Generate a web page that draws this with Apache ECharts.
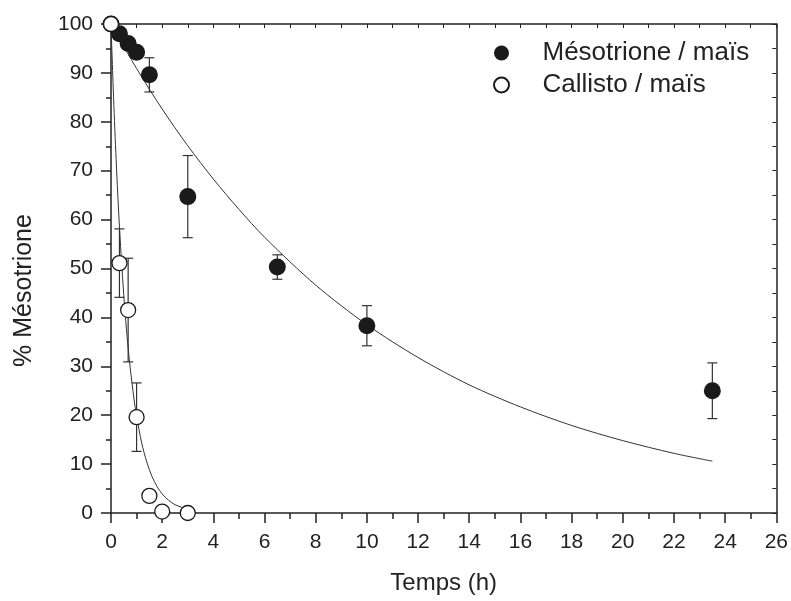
<!DOCTYPE html>
<html>
<head>
<meta charset="utf-8">
<script src="https://cdn.jsdelivr.net/npm/echarts@6/dist/echarts.min.js"></script>
<style>
html,body{margin:0;padding:0;background:#fff;}
#chart{width:791px;height:601px;}
</style>
</head>
<body>
<div id="chart"></div>
<script>
// Mésotrione / maïs (filled circles)
const mesoX = [0, 0.33, 0.67, 1, 1.5, 3, 6.5, 10, 23.5];
const mesoY = [100, 98, 96, 94.2, 89.6, 64.7, 50.3, 38.3, 25.0];
const mesoErr = [0, 0, 0, 0, 3.5, 8.4, 2.5, 4.1, 5.7];

// Callisto / maïs (open circles)
const callX = [0, 0.33, 0.67, 1, 1.5, 2, 3];
const callY = [100, 51.1, 41.5, 19.6, 3.5, 0.3, 0];
const callErr = [0, 7, 10.6, 7, 0, 0, 0];

// Fitted curves
const fitMesoX = [0, 1, 2, 3, 4, 5, 6, 8, 10, 12, 14, 16, 18, 20, 22, 23.5];
const fitMesoY = [100, 90.9, 82.6, 75.1, 68.3, 62.1, 56.4, 46.6, 38.5, 31.8, 26.2, 21.7, 17.9, 14.8, 12.2, 10.6];
const fitCallX = [0, 0.1, 0.2, 0.3, 0.4, 0.5, 0.6, 0.75, 0.9, 1, 1.2, 1.4, 1.6, 1.8, 2, 2.25, 2.5, 2.75, 3];
const fitCallY = [100, 85, 72.3, 61.5, 52.3, 44.5, 37.8, 29.7, 23.3, 19.8, 14.3, 10.4, 7.5, 5.4, 3.9, 2.6, 1.7, 1.2, 0.8];

// Axis ticks
const xMin = 0, xMax = 26, xStep = 2;
const yMin = 0, yMax = 100, yStep = 10;

const nameMeso = 'Mésotrione / maïs';
const nameCall = 'Callisto / maïs';

const zip = (a, b) => a.map((v, i) => [v, b[i]]);
const errData = (xs, ys, es) => xs.map((x, i) => [x, ys[i] - es[i], ys[i] + es[i]]).filter((d, i) => es[i] > 0);

const TXT = '#222';
const FONT = 'Liberation Sans, Arial, sans-serif';

function errRender(params, api) {
  const x = api.value(0);
  const lo = api.coord([x, api.value(1)]);
  const hi = api.coord([x, api.value(2)]);
  const hw = 5;
  const st = { stroke: '#333', lineWidth: 1.2 };
  return {
    type: 'group',
    children: [
      { type: 'line', shape: { x1: lo[0], y1: lo[1], x2: hi[0], y2: hi[1] }, style: st },
      { type: 'line', shape: { x1: lo[0] - hw, y1: lo[1], x2: lo[0] + hw, y2: lo[1] }, style: st },
      { type: 'line', shape: { x1: hi[0] - hw, y1: hi[1], x2: hi[0] + hw, y2: hi[1] }, style: st }
    ]
  };
}

const chart = echarts.init(document.getElementById('chart'), null, { renderer: 'canvas' });
const axisLine = { show: true, onZero: false, lineStyle: { color: TXT, width: 1.5 } };

chart.setOption({
  animation: false,
  backgroundColor: '#fff',
  textStyle: { fontFamily: FONT, color: TXT },
  grid: { left: 111, right: 14, top: 24, bottom: 88, containLabel: false },
  legend: {
    orient: 'vertical',
    left: 488,
    top: 35,
    itemWidth: 72,
    itemHeight: 15,
    itemGap: 6,
    data: [nameMeso, nameCall],
    textStyle: { fontSize: 26, color: TXT, fontFamily: FONT }
  },
  xAxis: [
    {
      type: 'value', min: xMin, max: xMax, interval: xStep, position: 'bottom',
      axisLine,
      axisTick: { show: true, inside: false, length: 10, lineStyle: { color: TXT, width: 1.5 } },
      minorTick: { show: true, splitNumber: 2, length: 6, lineStyle: { color: TXT, width: 1.5 } },
      splitLine: { show: false },
      axisLabel: { fontSize: 21, color: TXT, margin: 19, fontFamily: FONT },
      name: 'Temps (h)', nameLocation: 'middle', nameGap: 58,
      nameTextStyle: { fontSize: 24, color: TXT, fontFamily: FONT }
    },
    {
      type: 'value', min: xMin, max: xMax, interval: 1, position: 'top',
      axisLine,
      axisTick: { show: true, inside: true, length: 4, lineStyle: { color: TXT, width: 1 } },
      axisLabel: { show: false }, splitLine: { show: false }
    }
  ],
  yAxis: [
    {
      type: 'value', min: yMin, max: yMax, interval: yStep, position: 'left',
      axisLine,
      axisTick: { show: true, inside: false, length: 10, lineStyle: { color: TXT, width: 1.5 } },
      minorTick: { show: true, splitNumber: 2, length: 5, lineStyle: { color: TXT, width: 1.5 } },
      splitLine: { show: false },
      axisLabel: { fontSize: 21, color: TXT, margin: 18, fontFamily: FONT },
      name: '% Mésotrione', nameLocation: 'middle', nameGap: 74,
      nameTextStyle: { fontSize: 25, color: TXT, fontFamily: FONT, padding: [0, 44, 0, 0] }
    },
    {
      type: 'value', min: yMin, max: yMax, interval: 5, position: 'right',
      axisLine,
      axisTick: { show: true, inside: true, length: 4, lineStyle: { color: TXT, width: 1 } },
      axisLabel: { show: false }, splitLine: { show: false }
    }
  ],
  series: [
    {
      name: 'fitMeso', type: 'line', data: zip(fitMesoX, fitMesoY), smooth: 0.3,
      showSymbol: false, lineStyle: { color: '#333', width: 1 }, z: 1, silent: true
    },
    {
      name: 'fitCall', type: 'line', data: zip(fitCallX, fitCallY), smooth: 0.3,
      showSymbol: false, lineStyle: { color: '#333', width: 1 }, z: 1, silent: true
    },
    {
      name: 'errMeso', type: 'custom', renderItem: errRender, data: errData(mesoX, mesoY, mesoErr), z: 2, silent: true
    },
    {
      name: 'errCall', type: 'custom', renderItem: errRender, data: errData(callX, callY, callErr), z: 2, silent: true
    },
    {
      name: nameMeso, type: 'scatter', data: zip(mesoX, mesoY), symbol: 'circle', symbolSize: 17,
      itemStyle: { color: '#1a1a1a', borderColor: '#1a1a1a', borderWidth: 0, opacity: 1 }, z: 3
    },
    {
      name: nameCall, type: 'scatter', data: zip(callX, callY), symbol: 'circle', symbolSize: 15,
      itemStyle: { color: '#fff', borderColor: '#1a1a1a', borderWidth: 1.3, opacity: 1 }, z: 4
    }
  ]
});
</script>
</body>
</html>
